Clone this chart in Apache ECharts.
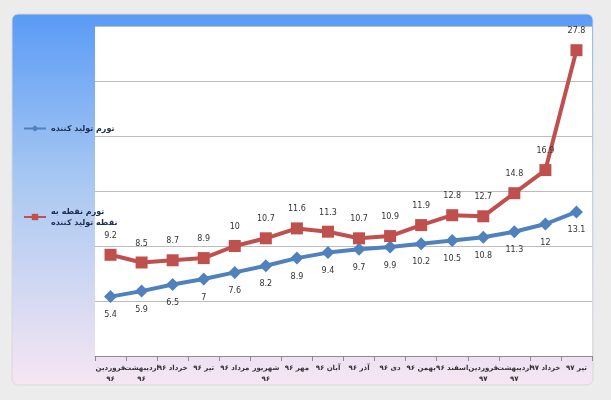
<!DOCTYPE html>
<html>
<head>
  <meta charset="utf-8">
  <title>تورم تولید کننده</title>
  <script src="https://cdn.jsdelivr.net/npm/echarts@6/dist/echarts.min.js"></script>
  <style>
    html, body { margin: 0; padding: 0; background: #ececec; }
  </style>
</head>
<body>
  <div id="chart" style="width: 611px; height: 400px;"></div>

  <script>
    // ماه‌ها
    const months = [
      'فروردین ۹۶', 'اردیبهشت ۹۶', 'خرداد ۹۶', 'تیر ۹۶', 'مرداد ۹۶', 'شهریور ۹۶',
      'مهر ۹۶', 'آبان ۹۶', 'آذر ۹۶', 'دی ۹۶', 'بهمن ۹۶', 'اسفند ۹۶',
      'فروردین ۹۷', 'اردیبهشت ۹۷', 'خرداد ۹۷', 'تیر ۹۷'
    ];
    // تورم تولید کننده
    const producerInflation = [5.4, 5.9, 6.5, 7, 7.6, 8.2, 8.9, 9.4, 9.7, 9.9, 10.2, 10.5, 10.8, 11.3, 12, 13.1];
    // تورم نقطه به نقطه
    const pointInflation = [9.2, 8.5, 8.7, 8.9, 10, 10.7, 11.6, 11.3, 10.7, 10.9, 11.9, 12.8, 12.7, 14.8, 16.9, 27.8];

    const nameBlue = 'تورم تولید کننده';
    const nameRed = 'تورم نقطه به نقطه تولید کننده';

    const chart = echarts.init(document.getElementById('chart'));

    chart.setOption({
      animation: false,
      textStyle: { fontFamily: 'DejaVu Sans' },
      graphic: [{
        type: 'rect',
        z: -10,
        shape: { x: 12, y: 14, width: 581, height: 371, r: 6 },
        style: {
          fill: new echarts.graphic.LinearGradient(0, 0, 0, 1, [
            { offset: 0, color: '#5a9bf6' },
            { offset: 0.45, color: '#a8c8f2' },
            { offset: 1, color: '#f7e6f3' }
          ]),
          stroke: '#d8d8d8'
        }
      }],
      legend: {
        orient: 'vertical',
        left: 18,
        top: 118,
        itemGap: 72,
        itemWidth: 22,
        itemHeight: 8,
        textStyle: { fontSize: 8, fontWeight: 'bold', color: '#1f2d4d', lineHeight: 11 },
        formatter: function (name) {
          return name === nameRed ? 'تورم نقطه به\nنقطه تولید کننده' : name;
        },
        data: [nameBlue, nameRed]
      },
      grid: {
        left: 95, right: 19, top: 26, bottom: 44,
        show: true, backgroundColor: '#ffffff', borderWidth: 0
      },
      xAxis: {
        type: 'category',
        data: months,
        boundaryGap: true,
        axisLine: { lineStyle: { color: '#8c8c8c' } },
        axisTick: { show: true, length: 5, lineStyle: { color: '#8c8c8c' } },
        axisLabel: {
          interval: 0,
          fontSize: 7,
          fontWeight: 'bold',
          color: '#333333',
          lineHeight: 11,
          margin: 7,
          formatter: function (v) {
            return v.length > 8 ? v.replace(' ', '\n') : v;
          }
        }
      },
      yAxis: {
        type: 'value',
        min: 0,
        max: 30,
        interval: 5,
        axisLine: { show: false },
        axisTick: { show: false },
        axisLabel: { show: false },
        splitLine: { lineStyle: { color: '#bdbdbd' } }
      },
      series: [
        {
          name: nameBlue,
          type: 'line',
          data: producerInflation,
          symbol: 'diamond',
          symbolSize: 13,
          lineStyle: { width: 4, color: '#4f81bd' },
          itemStyle: { color: '#4f81bd' },
          label: { show: true, position: 'bottom', distance: 8, fontSize: 8, color: '#333' }
        },
        {
          name: nameRed,
          type: 'line',
          data: pointInflation,
          symbol: 'rect',
          symbolSize: 12,
          lineStyle: { width: 4, color: '#c0504d' },
          itemStyle: { color: '#c0504d' },
          label: { show: true, position: 'top', distance: 9, fontSize: 8, color: '#333' }
        }
      ]
    });
  </script>
</body>
</html>
